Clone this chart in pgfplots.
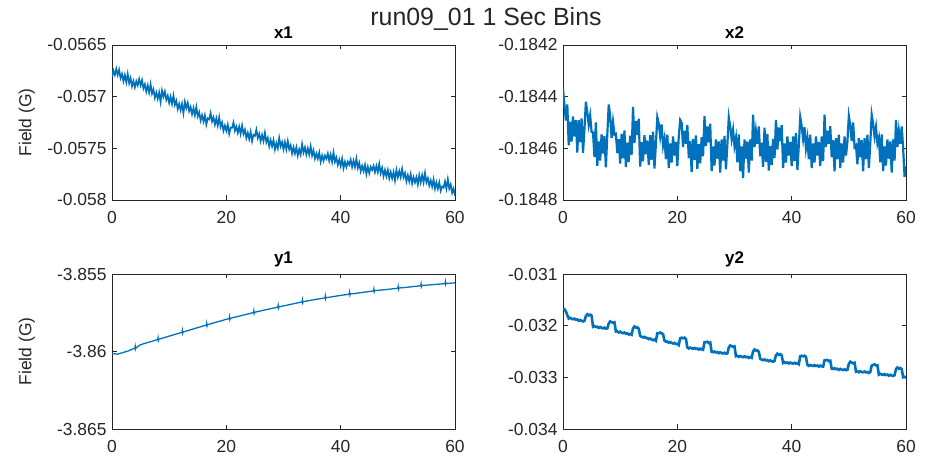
\documentclass[border=0pt]{standalone}
\usepackage{fontspec}
\setmainfont{Liberation Sans}
\usepackage{pgfplots}
\usepackage{pgfplotstable}
\pgfplotsset{compat=1.18}

\definecolor{mblue}{RGB}{0,114,189}
\definecolor{axc}{RGB}{38,38,38}

\pgfplotsset{
  panel/.style={
    scale only axis, width=343bp, height=155bp,
    xmin=0, xmax=60, xtick={0,20,40,60}, xticklabels={0,20,40,60},
    tick align=inside, tick pos=both, major tick length=4.5bp,
    axis line style={axc, line width=0.7bp},
    tick style={axc, line width=0.7bp},
    ticklabel style={font=\fontsize{17.5}{20}\selectfont, text=axc},
    xticklabel style={yshift=-8bp},
    yticklabel style={xshift=-2bp},
    scaled y ticks=false,
    title style={font=\fontsize{17}{20}\selectfont\bfseries, text=black, yshift=-3bp},
    ylabel style={font=\fontsize{17.5}{20}\selectfont, text=axc,
      at={(axis description cs:-0.248,0.5)}, anchor=center},
  },
}

\begin{document}
% x1, 0.25 s samples
\pgfplotstableread[header=false,row sep=\\]{
-0.05681\\-0.05675\\-0.05679\\-0.05673\\-0.05679\\-0.05674\\-0.05682\\-0.05678\\-0.05685\\-0.05679\\-0.05686\\-0.05678\\-0.05687\\-0.05682\\-0.05690\\-0.05685\\
-0.05691\\-0.05685\\-0.05689\\-0.05683\\-0.05689\\-0.05684\\-0.05692\\-0.05688\\-0.05695\\-0.05689\\-0.05696\\-0.05688\\-0.05697\\-0.05693\\-0.05701\\-0.05696\\
-0.05702\\-0.05696\\-0.05705\\-0.05694\\-0.05700\\-0.05695\\-0.05703\\-0.05699\\-0.05706\\-0.05700\\-0.05707\\-0.05699\\-0.05708\\-0.05704\\-0.05712\\-0.05707\\
-0.05713\\-0.05707\\-0.05716\\-0.05705\\-0.05711\\-0.05706\\-0.05714\\-0.05710\\-0.05717\\-0.05711\\-0.05718\\-0.05710\\-0.05719\\-0.05715\\-0.05723\\-0.05718\\
-0.05724\\-0.05718\\-0.05727\\-0.05721\\-0.05722\\-0.05716\\-0.05724\\-0.05720\\-0.05727\\-0.05721\\-0.05728\\-0.05720\\-0.05729\\-0.05725\\-0.05733\\-0.05728\\
-0.05733\\-0.05727\\-0.05736\\-0.05730\\-0.05730\\-0.05725\\-0.05733\\-0.05729\\-0.05735\\-0.05729\\-0.05736\\-0.05728\\-0.05736\\-0.05732\\-0.05740\\-0.05735\\
-0.05741\\-0.05734\\-0.05743\\-0.05737\\-0.05738\\-0.05732\\-0.05740\\-0.05736\\-0.05743\\-0.05737\\-0.05743\\-0.05735\\-0.05744\\-0.05740\\-0.05748\\-0.05742\\
-0.05748\\-0.05742\\-0.05751\\-0.05745\\-0.05750\\-0.05740\\-0.05748\\-0.05744\\-0.05751\\-0.05744\\-0.05751\\-0.05743\\-0.05751\\-0.05747\\-0.05755\\-0.05749\\
-0.05755\\-0.05749\\-0.05757\\-0.05751\\-0.05756\\-0.05746\\-0.05754\\-0.05749\\-0.05756\\-0.05750\\-0.05756\\-0.05748\\-0.05757\\-0.05752\\-0.05760\\-0.05755\\
-0.05760\\-0.05754\\-0.05763\\-0.05757\\-0.05762\\-0.05757\\-0.05760\\-0.05755\\-0.05762\\-0.05756\\-0.05763\\-0.05754\\-0.05763\\-0.05759\\-0.05766\\-0.05761\\
-0.05767\\-0.05760\\-0.05769\\-0.05763\\-0.05768\\-0.05763\\-0.05766\\-0.05761\\-0.05768\\-0.05762\\-0.05768\\-0.05760\\-0.05769\\-0.05764\\-0.05772\\-0.05767\\
-0.05772\\-0.05766\\-0.05775\\-0.05768\\-0.05774\\-0.05768\\-0.05771\\-0.05767\\-0.05773\\-0.05767\\-0.05773\\-0.05765\\-0.05774\\-0.05769\\-0.05777\\-0.05771\\
-0.05777\\-0.05771\\-0.05779\\-0.05773\\-0.05779\\-0.05773\\-0.05781\\-0.05771\\-0.05778\\-0.05772\\-0.05778\\-0.05770\\-0.05778\\-0.05774\\-0.05782\\-0.05776\\
-0.05782\\-0.05775\\-0.05784\\-0.05778\\-0.05783\\-0.05778\\-0.05785\\-0.05776\\-0.05783\\-0.05776\\-0.05783\\-0.05774\\-0.05783\\-0.05779\\-0.05786\\-0.05781\\
-0.05787\\-0.05780\\-0.05789\\-0.05783\\-0.05789\\-0.05783\\-0.05791\\-0.05787\\-0.05788\\-0.05782\\-0.05789\\-0.05780\\-0.05789\\-0.05785\\-0.05793\\-0.05789\\
-0.05796\\
}\xone

% x2, 0.25 s samples
\pgfplotstableread[header=false,row sep=\\]{
-0.184370\\-0.184430\\-0.184492\\-0.184430\\-0.184588\\-0.184497\\-0.184574\\-0.184477\\-0.184554\\-0.184491\\-0.184616\\-0.184491\\-0.184576\\-0.184484\\-0.184617\\-0.184526\\
-0.184420\\-0.184460\\-0.184509\\-0.184473\\-0.184536\\-0.184539\\-0.184634\\-0.184500\\-0.184668\\-0.184573\\-0.184647\\-0.184546\\-0.184620\\-0.184553\\-0.184674\\-0.184546\\
-0.184430\\-0.184475\\-0.184560\\-0.184498\\-0.184547\\-0.184544\\-0.184618\\-0.184565\\-0.184659\\-0.184544\\-0.184639\\-0.184531\\-0.184673\\-0.184578\\-0.184652\\-0.184551\\
-0.184625\\-0.184440\\-0.184580\\-0.184494\\-0.184548\\-0.184485\\-0.184671\\-0.184576\\-0.184650\\-0.184549\\-0.184623\\-0.184570\\-0.184664\\-0.184549\\-0.184644\\-0.184536\\
-0.184678\\-0.184583\\-0.184480\\-0.184504\\-0.184554\\-0.184508\\-0.184590\\-0.184561\\-0.184642\\-0.184547\\-0.184676\\-0.184581\\-0.184655\\-0.184554\\-0.184628\\-0.184575\\
-0.184669\\-0.184554\\-0.184490\\-0.184500\\-0.184595\\-0.184532\\-0.184582\\-0.184510\\-0.184638\\-0.184571\\-0.184692\\-0.184564\\-0.184645\\-0.184550\\-0.184679\\-0.184584\\
-0.184658\\-0.184557\\-0.184631\\-0.184475\\-0.184591\\-0.184515\\-0.184577\\-0.184505\\-0.184688\\-0.184593\\-0.184667\\-0.184566\\-0.184640\\-0.184573\\-0.184694\\-0.184566\\
-0.184647\\-0.184552\\-0.184681\\-0.184586\\-0.184480\\-0.184515\\-0.184564\\-0.184528\\-0.184591\\-0.184559\\-0.184654\\-0.184546\\-0.184688\\-0.184593\\-0.184715\\-0.184566\\
-0.184640\\-0.184573\\-0.184694\\-0.184566\\-0.184647\\-0.184470\\-0.184595\\-0.184533\\-0.184582\\-0.184515\\-0.184631\\-0.184578\\-0.184672\\-0.184520\\-0.184652\\-0.184544\\
-0.184686\\-0.184591\\-0.184665\\-0.184564\\-0.184638\\-0.184490\\-0.184605\\-0.184519\\-0.184573\\-0.184510\\-0.184676\\-0.184581\\-0.184655\\-0.184554\\-0.184628\\-0.184575\\
-0.184669\\-0.184554\\-0.184649\\-0.184541\\-0.184683\\-0.184588\\-0.184480\\-0.184514\\-0.184564\\-0.184518\\-0.184600\\-0.184561\\-0.184642\\-0.184547\\-0.184676\\-0.184581\\
-0.184655\\-0.184554\\-0.184628\\-0.184575\\-0.184669\\-0.184554\\-0.184649\\-0.184470\\-0.184595\\-0.184532\\-0.184582\\-0.184514\\-0.184635\\-0.184568\\-0.184689\\-0.184561\\
-0.184642\\-0.184547\\-0.184676\\-0.184581\\-0.184655\\-0.184554\\-0.184628\\-0.184575\\-0.184475\\-0.184510\\-0.184572\\-0.184500\\-0.184595\\-0.184588\\-0.184662\\-0.184561\\
-0.184635\\-0.184568\\-0.184689\\-0.184561\\-0.184642\\-0.184547\\-0.184676\\-0.184581\\-0.184470\\-0.184505\\-0.184554\\-0.184518\\-0.184581\\-0.184559\\-0.184654\\-0.184546\\
-0.184688\\-0.184593\\-0.184667\\-0.184566\\-0.184640\\-0.184573\\-0.184694\\-0.184566\\-0.184647\\-0.184490\\-0.184595\\-0.184533\\-0.184582\\-0.184515\\-0.184600\\-0.184710\\
-0.184670\\
}\xtwo

% y2, 0.25 s samples
\pgfplotstableread[header=false,row sep=\\]{
-0.031670\\-0.031680\\-0.031725\\-0.031794\\-0.031862\\-0.031848\\-0.031865\\-0.031876\\-0.031864\\-0.031885\\-0.031880\\-0.031904\\-0.031890\\-0.031907\\-0.031918\\-0.031906\\
-0.031815\\-0.031779\\-0.031802\\-0.031787\\-0.031808\\-0.032021\\-0.032007\\-0.032027\\-0.032020\\-0.032043\\-0.032027\\-0.032042\\-0.032052\\-0.032038\\-0.032058\\-0.032051\\
-0.031957\\-0.031917\\-0.031933\\-0.031943\\-0.031935\\-0.032113\\-0.032108\\-0.032132\\-0.032117\\-0.032134\\-0.032145\\-0.032133\\-0.032154\\-0.032149\\-0.032172\\-0.032158\\
-0.032175\\-0.032053\\-0.032015\\-0.032037\\-0.032032\\-0.032060\\-0.032196\\-0.032215\\-0.032227\\-0.032217\\-0.032239\\-0.032236\\-0.032261\\-0.032249\\-0.032267\\-0.032280\\
-0.032269\\-0.032292\\-0.032149\\-0.032147\\-0.032132\\-0.032149\\-0.032163\\-0.032289\\-0.032310\\-0.032306\\-0.032330\\-0.032317\\-0.032334\\-0.032345\\-0.032334\\-0.032355\\
-0.032351\\-0.032375\\-0.032242\\-0.032233\\-0.032244\\-0.032232\\-0.032255\\-0.032421\\-0.032442\\-0.032425\\-0.032439\\-0.032447\\-0.032432\\-0.032449\\-0.032441\\-0.032462\\
-0.032445\\-0.032459\\-0.032467\\-0.032320\\-0.032317\\-0.032312\\-0.032336\\-0.032324\\-0.032506\\-0.032514\\-0.032500\\-0.032518\\-0.032511\\-0.032532\\-0.032516\\-0.032530\\
-0.032539\\-0.032524\\-0.032543\\-0.032535\\-0.032422\\-0.032382\\-0.032398\\-0.032408\\-0.032400\\-0.032591\\-0.032583\\-0.032604\\-0.032587\\-0.032601\\-0.032609\\-0.032593\\
-0.032611\\-0.032603\\-0.032624\\-0.032607\\-0.032621\\-0.032498\\-0.032462\\-0.032483\\-0.032478\\-0.032504\\-0.032642\\-0.032657\\-0.032667\\-0.032653\\-0.032673\\-0.032666\\
-0.032688\\-0.032673\\-0.032688\\-0.032698\\-0.032684\\-0.032573\\-0.032542\\-0.032566\\-0.032552\\-0.032571\\-0.032721\\-0.032705\\-0.032722\\-0.032712\\-0.032732\\-0.032714\\
-0.032727\\-0.032734\\-0.032718\\-0.032734\\-0.032725\\-0.032745\\-0.032592\\-0.032583\\-0.032594\\-0.032582\\-0.032605\\-0.032759\\-0.032779\\-0.032761\\-0.032773\\-0.032780\\
-0.032764\\-0.032781\\-0.032772\\-0.032792\\-0.032773\\-0.032786\\-0.032793\\-0.032670\\-0.032667\\-0.032663\\-0.032687\\-0.032677\\-0.032831\\-0.032839\\-0.032824\\-0.032842\\
-0.032834\\-0.032855\\-0.032837\\-0.032851\\-0.032859\\-0.032844\\-0.032862\\-0.032854\\-0.032737\\-0.032698\\-0.032716\\-0.032728\\-0.032718\\-0.032890\\-0.032881\\-0.032901\\
-0.032883\\-0.032896\\-0.032903\\-0.032887\\-0.032904\\-0.032895\\-0.032915\\-0.032897\\-0.032773\\-0.032760\\-0.032748\\-0.032769\\-0.032766\\-0.032948\\-0.032931\\-0.032945\\
-0.032953\\-0.032938\\-0.032956\\-0.032947\\-0.032968\\-0.032951\\-0.032965\\-0.032973\\-0.032958\\-0.032840\\-0.032809\\-0.032834\\-0.032820\\-0.032841\\-0.032998\\-0.032990\\
-0.033010\\
}\ytwo

\begin{tikzpicture}
\path[use as bounding box] (0,0) rectangle (928bp,460bp);
\node[font=\fontsize{25}{29}\selectfont, text=axc] at (486bp,441bp) {run09\_01 1 Sec Bins};

\begin{axis}[panel, at={(112bp,260bp)},
  ymin=-0.058, ymax=-0.0565,
  ytick={-0.058,-0.0575,-0.057,-0.0565},
  yticklabels={-0.058,-0.0575,-0.057,-0.0565},
  title={x1}, ylabel={Field (G)}]
\addplot[mblue, line width=1.7bp, no markers] table[x expr=\coordindex*0.25, y index=0] {\xone};
\end{axis}

\begin{axis}[panel, at={(563bp,260bp)},
  ymin=-0.1848, ymax=-0.1842,
  ytick={-0.1848,-0.1846,-0.1844,-0.1842},
  yticklabels={-0.1848,-0.1846,-0.1844,-0.1842},
  title={x2}]
\addplot[mblue, line width=2.2bp, no markers] table[x expr=\coordindex*0.25, y index=0] {\xtwo};
\end{axis}

\begin{axis}[panel, at={(112bp,31bp)},
  ymin=-3.865, ymax=-3.855,
  ytick={-3.865,-3.86,-3.855},
  yticklabels={-3.865,-3.86,-3.855},
  title={y1}, ylabel={Field (G)}]
\addplot[mblue, line width=1.3bp, no markers] coordinates {
(0,-3.86013) (1,-3.86017) (2,-3.86006) (3,-3.85994) (4,-3.85978) (4.06,-3.85966) (4.12,-3.85984) (4.2,-3.85976)
(5,-3.85956) (6,-3.85945) (7,-3.85934) (8,-3.85923) (8.06,-3.85911) (8.12,-3.85929) (8.2,-3.85921)
(9,-3.85912) (10,-3.85901) (11,-3.85890) (12,-3.85879) (12.25,-3.85876) (12.31,-3.85864) (12.37,-3.85882) (12.45,-3.85874)
(13,-3.85868) (14,-3.85857) (15,-3.85846) (16,-3.85835) (16.5,-3.85830) (16.56,-3.85818) (16.62,-3.85836) (16.7,-3.85828)
(17,-3.85824) (18,-3.85813) (19,-3.85803) (20,-3.85792) (20.5,-3.85788) (20.56,-3.85776) (20.62,-3.85794) (20.7,-3.85786)
(21,-3.85783) (22,-3.85774) (23,-3.85765) (24,-3.85756) (24.75,-3.85749) (24.81,-3.85737) (24.87,-3.85755) (24.95,-3.85747)
(26,-3.85738) (27,-3.85730) (28,-3.85722) (29,-3.85714) (29.06,-3.85702) (29.12,-3.85720) (29.2,-3.85712)
(30,-3.85706) (31,-3.85698) (32,-3.85690) (33,-3.85682) (33.25,-3.85680) (33.31,-3.85668) (33.37,-3.85686) (33.45,-3.85678)
(34,-3.85675) (35,-3.85668) (36,-3.85662) (37,-3.85656) (37.25,-3.85654) (37.31,-3.85642) (37.37,-3.85660) (37.45,-3.85652)
(38,-3.85650) (39,-3.85644) (40,-3.85638) (41,-3.85633) (41.5,-3.85630) (41.56,-3.85618) (41.62,-3.85636) (41.7,-3.85628)
(42,-3.85628) (43,-3.85623) (44,-3.85618) (45,-3.85613) (45.75,-3.85609) (45.81,-3.85597) (45.87,-3.85615) (45.95,-3.85607)
(47,-3.85604) (48,-3.85600) (49,-3.85596) (50,-3.85592) (50.06,-3.85580) (50.12,-3.85598) (50.2,-3.85590)
(51,-3.85588) (52,-3.85584) (53,-3.85580) (54,-3.85576) (54.06,-3.85564) (54.12,-3.85582) (54.2,-3.85574)
(55,-3.85572) (56,-3.85569) (57,-3.85566) (58,-3.85563) (58.25,-3.85562) (58.31,-3.85550) (58.37,-3.85568) (58.45,-3.85560)
(59,-3.85560) (60,-3.85557)
};
\end{axis}

\begin{axis}[panel, at={(563bp,31bp)},
  ymin=-0.034, ymax=-0.031,
  ytick={-0.034,-0.033,-0.032,-0.031},
  yticklabels={-0.034,-0.033,-0.032,-0.031},
  title={y2}]
\addplot[mblue, line width=2.6bp, no markers] table[x expr=\coordindex*0.25, y index=0] {\ytwo};
\end{axis}
\end{tikzpicture}
\end{document}
